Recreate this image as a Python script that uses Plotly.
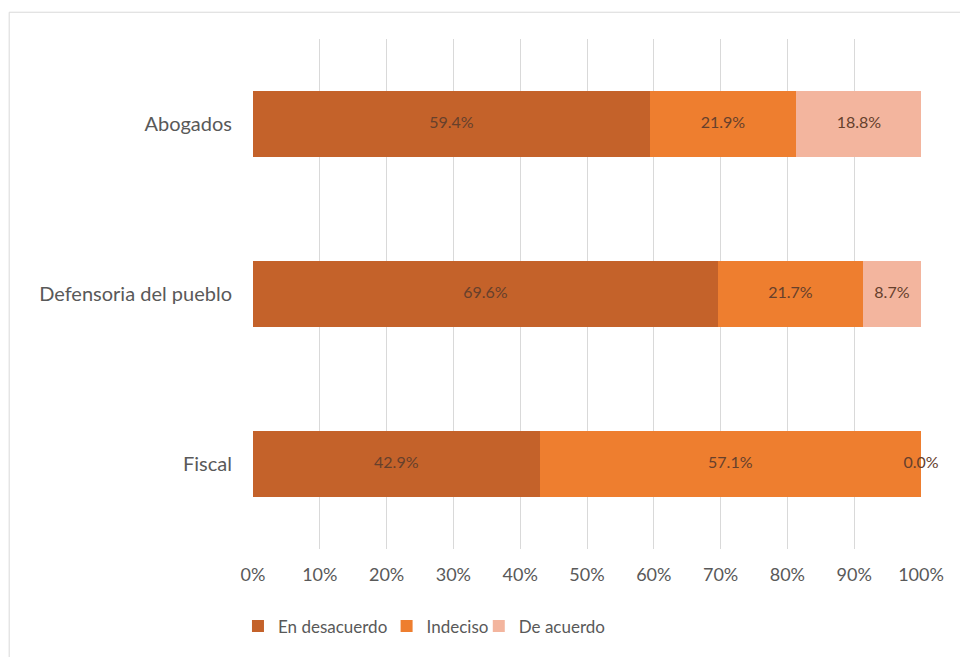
import numpy as np
import plotly.graph_objects as go

# Datos
categorias = ['Fiscal', 'Defensoria del pueblo', 'Abogados']
en_desacuerdo = [42.9, 69.6, 59.4]
indeciso = [57.1, 21.7, 21.9]
de_acuerdo = [0.0, 8.7, 18.8]
series = ['En desacuerdo', 'Indeciso', 'De acuerdo']
colores = ['#C4622A', '#EE7E2F', '#F3B59E']
ticks = list(range(0, 101, 10))

fuente = 'Lato'
fig = go.Figure()

# Una leyenda por serie para poder acercar las entradas como en Excel
leyendas = ['legend', 'legend2', 'legend3']
pos_leyenda = [-0.0225, 0.2, 0.338]

valores = [en_desacuerdo, indeciso, de_acuerdo]
for nombre, vals, color, ley in zip(series, valores, colores, leyendas):
    fig.add_trace(go.Bar(
        y=categorias, x=vals, name=nombre, orientation='h',
        marker=dict(color=color, line=dict(width=0)),
        width=0.39, hoverinfo='x+y', legend=ley
    ))

# Etiquetas de datos en el centro de cada segmento
acum = np.cumsum(np.array(valores), axis=0)
for i, vals in enumerate(valores):
    centro = acum[i] - np.array(vals) / 2
    fig.add_trace(go.Scatter(
        y=categorias, x=centro, mode='text',
        text=[f'{v:.1f}%' for v in vals],
        textfont=dict(family=fuente, size=16, color='#66402c'),
        cliponaxis=False, showlegend=False, hoverinfo='skip'
    ))

estilo_leyenda = dict(orientation='h', y=-0.152, xanchor='left', yanchor='middle',
                      font=dict(size=17, color='#595959'), itemwidth=30,
                      bgcolor='rgba(0,0,0,0)')

fig.update_layout(
    barmode='stack',
    width=960, height=657,
    margin=dict(l=253, r=39, t=39, b=104),
    paper_bgcolor='white', plot_bgcolor='white',
    font=dict(family=fuente, size=17, color='#595959'),
    xaxis=dict(range=[0, 100], tickvals=ticks, ticktext=[f'{t}%' for t in ticks],
               showgrid=True, gridcolor='#d9d9d9', gridwidth=1, zeroline=False,
               showline=False, ticks='', tickfont=dict(size=18),
               ticklabelstandoff=13, fixedrange=True),
    yaxis=dict(showgrid=False, zeroline=False, showline=False, ticks='',
               tickfont=dict(size=20), ticklabelstandoff=20, range=[-0.5, 2.5]),
    legend=dict(x=pos_leyenda[0], **estilo_leyenda),
    legend2=dict(x=pos_leyenda[1], **estilo_leyenda),
    legend3=dict(x=pos_leyenda[2], **estilo_leyenda),
    shapes=[dict(type='rect', xref='paper', yref='paper', x0=-0.365, x1=1.2,
                 y0=-0.3, y1=1.0525, line=dict(color='#d9d9d9', width=1),
                 fillcolor='rgba(0,0,0,0)', layer='below')]
)

fig.write_html('out.html', config={'displayModeBar': False},
               post_script="document.body.style.margin='0';")
